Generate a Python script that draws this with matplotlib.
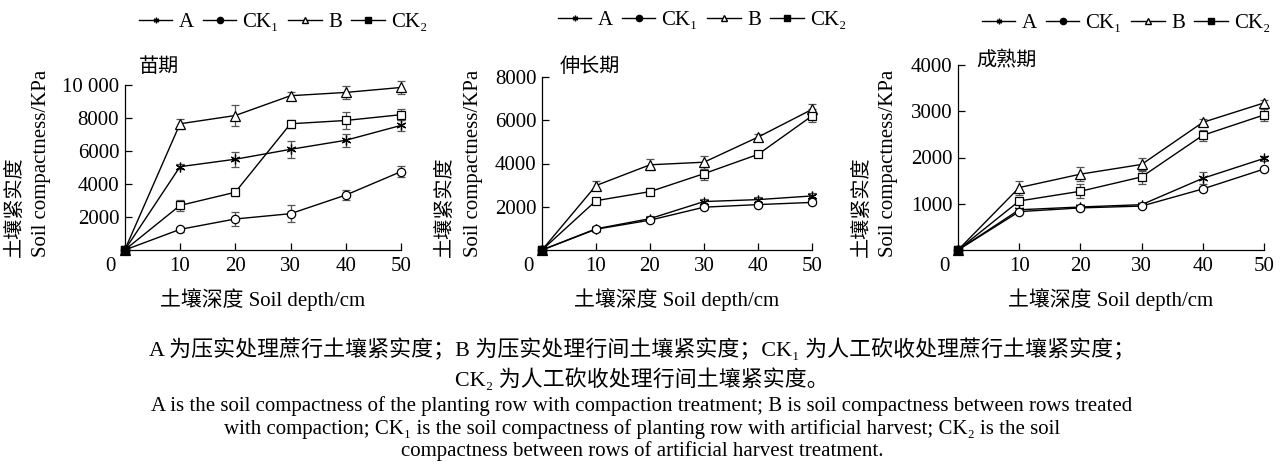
import matplotlib
matplotlib.use('Agg')
import matplotlib.pyplot as plt
from matplotlib.lines import Line2D

plt.rcParams['font.family'] = ['Liberation Serif', 'Noto Sans CJK SC', 'DejaVu Sans']
plt.rcParams['axes.unicode_minus'] = False

depth = [0, 10, 20, 30, 40, 50]
series_names = ['A', 'CK\u2081', 'B', 'CK\u2082']

# 苗期
seed_A = [0, 5050, 5500, 6100, 6650, 7550]
seed_CK1 = [0, 1250, 1880, 2200, 3330, 4750]
seed_B = [0, 7650, 8150, 9350, 9550, 9850]
seed_CK2 = [0, 2700, 3500, 7650, 7850, 8200]
seed_A_err = [0, 150, 450, 500, 400, 350]
seed_CK1_err = [0, 150, 450, 500, 300, 350]
seed_B_err = [0, 300, 650, 250, 400, 400]
seed_CK2_err = [0, 350, 200, 250, 500, 350]

# 伸长期
elong_A = [0, 980, 1450, 2240, 2330, 2500]
elong_CK1 = [0, 960, 1380, 1980, 2100, 2200]
elong_B = [0, 2980, 3940, 4060, 5220, 6500]
elong_CK2 = [0, 2280, 2700, 3530, 4420, 6200]
elong_A_err = [0, 80, 120, 100, 100, 120]
elong_CK1_err = [0, 70, 100, 80, 80, 80]
elong_B_err = [0, 200, 250, 300, 150, 250]
elong_CK2_err = [0, 100, 150, 300, 100, 300]

# 成熟期
mature_A = [0, 870, 930, 980, 1550, 1980]
mature_CK1 = [0, 830, 910, 950, 1320, 1750]
mature_B = [0, 1350, 1640, 1850, 2760, 3180]
mature_CK2 = [0, 1060, 1270, 1580, 2480, 2920]
mature_A_err = [0, 40, 40, 30, 130, 50]
mature_CK1_err = [0, 40, 40, 30, 40, 50]
mature_B_err = [0, 150, 150, 150, 80, 70]
mature_CK2_err = [0, 60, 150, 150, 120, 120]

titles = ['苗期', '伸长期', '成熟期']
yticks = [[2000, 4000, 6000, 8000, 10000], [2000, 4000, 6000, 8000], [1000, 2000, 3000, 4000]]
ytick_labels = [['2000', '4000', '6000', '8000', '10 000'],
                ['2000', '4000', '6000', '8000'],
                ['1000', '2000', '3000', '4000']]
ymax = [10000, 8000, 4000]

W, H = 1285, 471
fig = plt.figure(figsize=(W / 100, H / 100), dpi=100)

# axes boxes in pixels: left, right, top, bottom
boxes = [(124.75, 401, 85, 250), (542, 812, 77, 250), (958, 1264, 65, 250)]
ylab_x = [(15, 42), (445, 473), (862, 889)]
title_pos = [(159, 68), (590, 67), (1006, 62)]
legend_y = [22, 20, 23]
legend_x = [427, 846, 1270]

data = [
    (seed_A, seed_CK1, seed_B, seed_CK2, seed_A_err, seed_CK1_err, seed_B_err, seed_CK2_err),
    (elong_A, elong_CK1, elong_B, elong_CK2, elong_A_err, elong_CK1_err, elong_B_err, elong_CK2_err),
    (mature_A, mature_CK1, mature_B, mature_CK2, mature_A_err, mature_CK1_err, mature_B_err, mature_CK2_err),
]
markers = [(6, 2, 0), 'o', '^', 's']
msizes = [7, 6, 6.5, 5.5]
fs = 15

for i in range(3):
    l, r, t, b = boxes[i]
    ax = fig.add_axes([l / W, 1 - b / H, (r - l) / W, (b - t) / H])
    vals = data[i][:4]
    errs = data[i][4:]
    for v, e, m, ms in zip(vals, errs, markers, msizes):
        ax.errorbar(depth, v, yerr=e, color='black', lw=1.0, marker=m, ms=ms,
                    mfc='white', mec='black', mew=0.9, ecolor='#555555',
                    elinewidth=0.9, capsize=3, capthick=0.9, clip_on=False, zorder=3)
    ax.plot(depth[:1], [0], marker='s', ms=6, color='black', clip_on=False, zorder=5)
    ax.set_xlim(0, 50)
    ax.set_ylim(0, ymax[i])
    ax.set_xticks([10, 20, 30, 40, 50])
    ax.set_yticks(yticks[i])
    ax.set_yticklabels(ytick_labels[i])
    ax.tick_params(direction='in', length=5, width=0.9, labelsize=fs, pad=4)
    ax.tick_params(axis='x', pad=5)
    ax.spines['top'].set_visible(False)
    ax.spines['right'].set_visible(False)
    for s in ['left', 'bottom']:
        ax.spines[s].set_linewidth(0.9)
    ax.set_xlabel('土壤深度 Soil depth/cm', fontsize=fs, labelpad=9)
    ax.annotate('0', xy=(0, 0), xycoords='axes fraction', xytext=(-10, -5),
                textcoords='offset points', ha='center', va='top', fontsize=fs)

    fig.text(ylab_x[i][0] / W, 1 - 257 / H, '土壤紧实度', rotation=90,
             ha='center', va='bottom', fontsize=14.5)
    fig.text(ylab_x[i][1] / W, 1 - 257 / H, 'Soil compactness/KPa', rotation=90,
             ha='center', va='bottom', fontsize=fs)
    fig.text(title_pos[i][0] / W, 1 - title_pos[i][1] / H, titles[i],
             ha='center', va='center', fontsize=14.5)

    handles = [
        Line2D([], [], color='black', lw=1, marker=(6, 2, 0), ms=4, mec='black'),
        Line2D([], [], color='black', lw=1, marker='o', ms=4.5),
        Line2D([], [], color='black', lw=1, marker='^', ms=5, mfc='white'),
        Line2D([], [], color='black', lw=1, marker='s', ms=4.5),
    ]
    fig.legend(handles, series_names, loc='center right',
               bbox_to_anchor=(legend_x[i] / W, 1 - legend_y[i] / H),
               ncol=4, frameon=False, fontsize=fs, handlelength=1.6,
               handletextpad=0.3, columnspacing=0.45, borderpad=0, borderaxespad=0)

cap_zh1 = 'A 为压实处理蔗行土壤紧实度；B 为压实处理行间土壤紧实度；CK\u2081 为人工砍收处理蔗行土壤紧实度；'
cap_zh2 = 'CK\u2082 为人工砍收处理行间土壤紧实度。'
cap_en1 = 'A is the soil compactness of the planting row with compaction treatment; B is soil compactness between rows treated'
cap_en2 = 'with compaction; CK\u2081 is the soil compactness of planting row with artificial harvest; CK\u2082 is the soil'
cap_en3 = 'compactness between rows of artificial harvest treatment.'

fig.text(642 / W, 1 - 350 / H, cap_zh1, ha='center', va='center', fontsize=15.8)
fig.text(642 / W, 1 - 380 / H, cap_zh2, ha='center', va='center', fontsize=15.8)
fig.text(642 / W, 1 - 406 / H, cap_en1, ha='center', va='center', fontsize=15)
fig.text(642 / W, 1 - 429 / H, cap_en2, ha='center', va='center', fontsize=15)
fig.text(642 / W, 1 - 451 / H, cap_en3, ha='center', va='center', fontsize=15)

fig.savefig('out.png', dpi=100)
